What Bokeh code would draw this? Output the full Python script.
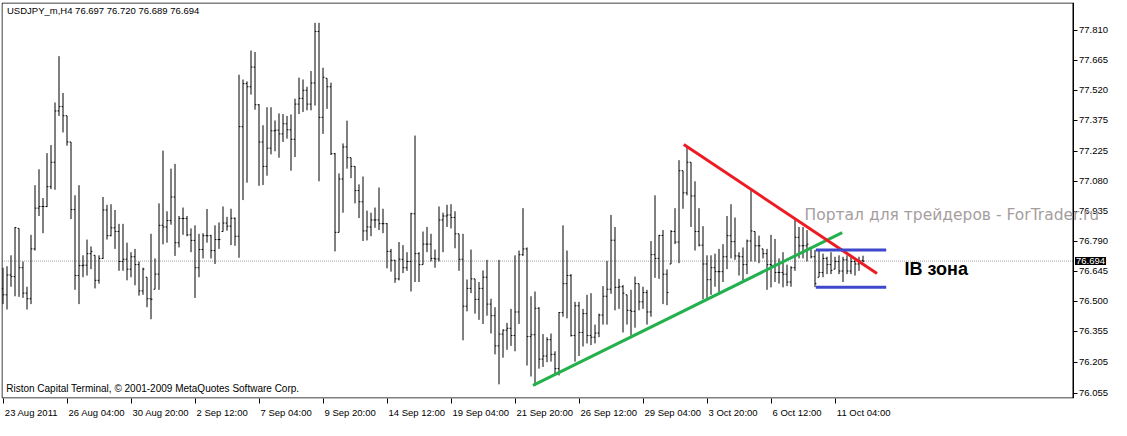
from bokeh.plotting import figure
from bokeh.models import Range1d, FixedTicker, PrintfTickFormatter, Label, BoxAnnotation
from bokeh.embed import file_html
from bokeh.resources import INLINE

# ---------------- data ----------------
highs = [76.662, 76.669, 76.722, 76.859, 76.852, 76.692, 76.570, 76.821, 77.061, 77.138,
         76.999, 77.216, 77.255, 77.461, 77.685, 77.507, 77.397, 77.270, 77.012, 77.061,
         76.722, 76.798, 76.765, 76.722, 76.722, 77.004, 76.966, 76.969, 76.941, 76.874,
         76.874, 76.783, 76.737, 76.753, 76.692, 76.662, 76.616, 76.826, 76.707, 76.973,
         77.228, 76.935, 77.141, 77.164, 76.912, 76.953, 76.912, 76.852, 76.867, 76.826,
         76.829, 76.946, 76.821, 76.867, 76.881, 76.958, 76.908, 76.947, 76.905, 77.595,
         77.572, 77.563, 77.712, 77.705, 77.453, 77.351, 77.438, 77.438, 77.374, 77.408,
         77.405, 77.396, 77.403, 77.479, 77.581, 77.572, 77.537, 77.613, 77.846, 77.846,
         77.629, 77.578, 77.557, 77.217, 77.118, 77.263, 77.373, 77.194, 77.153, 77.065,
         77.103, 76.938, 76.928, 76.953, 77.050, 76.947, 76.878, 76.753, 76.700, 76.786,
         76.771, 76.737, 76.928, 77.301, 76.737, 76.837, 76.859, 76.826, 76.750, 76.958,
         76.928, 76.966, 76.969, 76.935, 76.826, 76.826, 76.605, 76.750, 76.608, 76.593,
         76.649, 76.700, 76.512, 76.471, 76.700, 76.364, 76.395, 76.463, 76.722, 76.745,
         76.950, 76.760, 76.524, 76.547, 76.471, 76.341, 76.326, 76.344, 76.258, 76.448,
         76.867, 76.745, 76.631, 76.497, 76.497, 76.463, 76.531, 76.539, 76.387, 76.440,
         76.573, 76.695, 76.917, 76.859, 76.608, 76.578, 76.531, 76.555, 76.619, 76.585,
         76.570, 76.555, 76.791, 77.012, 76.821, 76.844, 76.654, 76.844, 76.950, 77.182,
         77.131, 77.248, 77.172, 77.080, 76.950, 76.863, 76.722, 76.722, 76.730, 76.753,
         76.776, 76.912, 76.969, 76.905, 76.737, 76.760, 76.798, 77.042, 76.837, 76.817,
         76.753, 76.753, 76.821, 76.801, 76.707, 76.737, 76.677, 76.669, 76.893, 76.859,
         76.859, 76.844, 76.760, 76.748, 76.745, 76.730, 76.715, 76.737, 76.715, 76.722,
         76.715, 76.722, 76.715, 76.707, 76.715, 76.720]

lows = [76.486, 76.460, 76.570, 76.524, 76.521, 76.516, 76.460, 76.486, 76.745, 76.912,
        76.829, 76.955, 77.042, 77.039, 77.396, 77.316, 77.252, 76.897, 76.555, 76.486,
        76.616, 76.624, 76.655, 76.562, 76.585, 76.704, 76.798, 76.814, 76.753, 76.647,
        76.647, 76.601, 76.616, 76.577, 76.527, 76.531, 76.471, 76.413, 76.558, 76.555,
        76.775, 76.783, 76.870, 76.719, 76.760, 76.821, 76.814, 76.737, 76.516, 76.616,
        76.707, 76.783, 76.707, 76.680, 76.753, 76.837, 76.841, 76.771, 76.768, 76.710,
        76.989, 77.073, 77.499, 77.426, 77.058, 77.062, 77.107, 77.210, 77.225, 77.194,
        77.270, 77.286, 77.131, 77.197, 77.405, 77.415, 77.423, 77.423, 77.446, 77.080,
        77.309, 77.430, 77.207, 76.741, 76.832, 76.928, 77.141, 77.095, 76.973, 76.902,
        76.791, 76.794, 76.814, 76.855, 76.844, 76.829, 76.659, 76.643, 76.589, 76.601,
        76.636, 76.647, 76.547, 76.593, 76.593, 76.677, 76.737, 76.692, 76.662, 76.692,
        76.737, 76.859, 76.852, 76.756, 76.647, 76.311, 76.451, 76.539, 76.440, 76.410,
        76.390, 76.430, 76.344, 76.243, 76.098, 76.227, 76.265, 76.284, 76.258, 76.390,
        76.719, 76.189, 76.136, 76.090, 76.174, 76.182, 76.205, 76.208, 76.144, 76.141,
        76.425, 76.417, 76.329, 76.208, 76.235, 76.281, 76.296, 76.288, 76.296, 76.326,
        76.387, 76.387, 76.536, 76.456, 76.463, 76.349, 76.387, 76.334, 76.372, 76.456,
        76.463, 76.387, 76.425, 76.613, 76.608, 76.486, 76.481, 76.680, 76.776, 76.684,
        76.947, 77.012, 76.859, 76.745, 76.765, 76.509, 76.516, 76.531, 76.570, 76.531,
        76.593, 76.655, 76.707, 76.700, 76.624, 76.601, 76.631, 76.692, 76.692, 76.684,
        76.707, 76.555, 76.567, 76.593, 76.585, 76.567, 76.573, 76.570, 76.647, 76.707,
        76.707, 76.692, 76.707, 76.568, 76.616, 76.616, 76.631, 76.631, 76.655, 76.631,
        76.593, 76.631, 76.631, 76.624, 76.647, 76.689]

closes = [76.531, 76.627, 76.619, 76.856, 76.662, 76.539, 76.512, 76.753, 76.950, 76.958,
          76.958, 77.054, 77.172, 77.420, 77.441, 77.397, 77.270, 76.943, 76.624, 76.672,
          76.674, 76.730, 76.741, 76.601, 76.707, 76.941, 76.817, 76.855, 76.837, 76.692,
          76.703, 76.655, 76.715, 76.677, 76.550, 76.655, 76.512, 76.509, 76.631, 76.867,
          76.859, 76.890, 77.004, 76.783, 76.900, 76.900, 76.821, 76.794, 76.662, 76.750,
          76.817, 76.817, 76.745, 76.798, 76.798, 76.878, 76.863, 76.901, 76.814, 77.344,
          77.552, 77.537, 77.632, 77.450, 77.270, 77.152, 77.240, 77.324, 77.327, 77.309,
          77.358, 77.329, 77.283, 77.453, 77.481, 77.520, 77.453, 77.555, 77.804, 77.389,
          77.583, 77.537, 77.213, 76.833, 77.091, 77.246, 77.194, 77.152, 77.035, 76.981,
          76.840, 76.859, 76.893, 76.893, 76.875, 76.875, 76.741, 76.698, 76.608, 76.703,
          76.662, 76.692, 76.923, 76.730, 76.677, 76.776, 76.776, 76.707, 76.704, 76.893,
          76.912, 76.917, 76.905, 76.826, 76.703, 76.476, 76.562, 76.608, 76.509, 76.562,
          76.616, 76.486, 76.430, 76.284, 76.341, 76.360, 76.369, 76.334, 76.448, 76.725,
          76.753, 76.329, 76.338, 76.466, 76.220, 76.235, 76.314, 76.243, 76.174, 76.445,
          76.585, 76.624, 76.334, 76.478, 76.349, 76.440, 76.334, 76.326, 76.346, 76.433,
          76.524, 76.558, 76.795, 76.567, 76.570, 76.539, 76.456, 76.451, 76.585, 76.497,
          76.542, 76.448, 76.725, 76.707, 76.818, 76.631, 76.542, 76.837, 76.786, 77.131,
          77.024, 77.172, 77.009, 76.837, 76.771, 76.680, 76.604, 76.662, 76.643, 76.643,
          76.715, 76.817, 76.788, 76.719, 76.715, 76.677, 76.791, 76.840, 76.768, 76.768,
          76.730, 76.677, 76.674, 76.639, 76.639, 76.631, 76.593, 76.662, 76.809, 76.768,
          76.768, 76.776, 76.715, 76.585, 76.639, 76.707, 76.677, 76.649, 76.692, 76.646,
          76.700, 76.646, 76.692, 76.680, 76.697, 76.694]
first_open = 76.560

# price-axis tick labels and time-axis tick labels
ytick_values = [76.055, 76.205, 76.355, 76.500, 76.645, 76.790, 76.935,
                77.080, 77.225, 77.375, 77.520, 77.665, 77.810]
xtick_bars = [0, 16, 32, 48, 64, 80, 96, 112, 128, 144, 160, 176, 192, 208]
xtick_labels = ["23 Aug 2011", "26 Aug 04:00", "30 Aug 20:00", "2 Sep 12:00",
                "7 Sep 04:00", "9 Sep 20:00", "14 Sep 12:00", "19 Sep 04:00",
                "21 Sep 20:00", "26 Sep 12:00", "29 Sep 04:00", "3 Oct 20:00",
                "6 Oct 12:00", "11 Oct 04:00"]

# hand-drawn annotation lines (bar index, price)
red_x, red_y = [170.2, 218.5], [77.258, 76.634]
green_x, green_y = [132.5, 209.8], [76.093, 76.832]
ib_x = [203.2, 220.8]
ib_high, ib_low = 76.748, 76.568
last_price = 76.694

title_text = "USDJPY_m,H4  76.697 76.720 76.689 76.694"
copyright_text = "Riston Capital Terminal, \u00a9 2001-2009 MetaQuotes Software Corp."
watermark_text = "Портал для трейдеров - ForTrader.ru"
watermark_at = (200.4, 76.916)
ib_text = "IB зона"
ib_text_at = (225.4, 76.654)

# ---------------- layout ----------------
W, H = 1111, 420
BL, BT, BB = 1, 2, 16            # canvas borders (the price scale lives inside the frame)
PX_BAR = 4.0                     # MT4 bar spacing in pixels
SCALE_W = 38                     # width of the price-scale strip on the right
FRAME_W, FRAME_H = W - BL, H - BT - BB
FONT = "Liberation Sans"
FS = 9.5                         # scale / header font size
FS_COPY = 10

# chart box in data units (bars at pixel centres), the frame extends over the price scale
XS = -1.5 / PX_BAR
BOX_X0 = XS + 0.5 / PX_BAR
BOX_X1 = XS + (FRAME_W - SCALE_W - 0.5) / PX_BAR
XE = XS + FRAME_W / PX_BAR
BOX_Y0, BOX_Y1 = 76.032, 77.942
py = (FRAME_H - 1) / (BOX_Y1 - BOX_Y0)
YS, YE = BOX_Y0 - 0.5 / py, BOX_Y1 + 0.5 / py

# Arial/Liberation Sans advance widths (per 1000 em) for the tick-label characters
AW = {**{d: 556 for d in "0123456789"}, " ": 278, ":": 278, "A": 667, "u": 556,
      "g": 556, "S": 667, "e": 556, "p": 556, "O": 778, "c": 500, "t": 278}


def text_px(s, size):
    return sum(AW.get(c, 556) for c in s) * size / 1000.0


# MT4 draws time labels left-aligned just right of the tick; place label centres accordingly
label_centres = [round(b + (1.5 + text_px(l, FS) / 2.0) / PX_BAR, 4)
                 for b, l in zip(xtick_bars, xtick_labels)]

# ---------------- derived ----------------
n = len(closes)
idx = list(range(n))
opens = [first_open] + closes[:-1]
opens = [min(max(o, l), h) for o, l, h in zip(opens, lows, highs)]

p = figure(width=W, height=H,
           x_range=Range1d(XS, XE), y_range=Range1d(YS, YE),
           output_backend="svg", toolbar_location=None,
           x_axis_location="below", y_axis_location="right",
           min_border_left=BL, min_border_top=BT, min_border_bottom=BB, min_border_right=0)
p.grid.visible = False
p.outline_line_color = None
p.background_fill_color = "white"
p.border_fill_color = "white"

# right price axis, pinned at the chart box's right edge
ya = p.yaxis[0]
ya.fixed_location = BOX_X1
ya.ticker = FixedTicker(ticks=ytick_values)
ya.formatter = PrintfTickFormatter(format="%.3f")
ya.major_tick_in = 0
ya.major_tick_out = 4
ya.minor_tick_line_color = None
ya.axis_line_color = "black"
ya.major_tick_line_color = "black"
ya.major_label_text_font = FONT
ya.major_label_text_font_size = "%.1fpx" % FS
ya.major_label_text_color = "black"
ya.major_label_standoff = 2

# bottom time axis: labels on (hidden) major ticks, visible tick marks as minor ticks
xa = p.xaxis[0]
xa.ticker = FixedTicker(ticks=label_centres, minor_ticks=xtick_bars)
xa.major_label_overrides = {c: l for c, l in zip(label_centres, xtick_labels)}
xa.major_tick_line_color = None
xa.major_tick_in = 0
xa.major_tick_out = 0
xa.minor_tick_in = 0
xa.minor_tick_out = 5
xa.minor_tick_line_color = "black"
xa.axis_line_color = None
xa.major_label_text_font = FONT
xa.major_label_text_font_size = "%.1fpx" % FS
xa.major_label_text_color = "black"
xa.major_label_standoff = 3

# chart box border
p.add_layout(BoxAnnotation(left=BOX_X0, right=BOX_X1, bottom=BOX_Y0, top=BOX_Y1,
                           fill_alpha=0, line_color="black", line_width=1, line_alpha=1))

# current price line (up to the price scale)
p.line([BOX_X0, BOX_X1], [last_price, last_price], line_color="#A8A0A8",
       line_dash="1 1", line_width=1)

# OHLC bars
p.segment(x0=idx, y0=lows, x1=idx, y1=highs, line_color="black", line_width=1)
p.segment(x0=[i - 0.35 for i in idx], y0=opens, x1=idx, y1=opens, line_color="black", line_width=1)
p.segment(x0=idx, y0=closes, x1=[i + 0.35 for i in idx], y1=closes, line_color="black", line_width=1)

# trend lines and IB zone
p.line(green_x, green_y, line_color="#22B14C", line_width=3)
p.line(red_x, red_y, line_color="#ED1C24", line_width=3)
p.line(ib_x, [ib_high, ib_high], line_color="#3F48CC", line_width=3)
p.line(ib_x, [ib_low, ib_low], line_color="#3F48CC", line_width=3)

# texts
p.add_layout(Label(x=1.0, y=77.907, text=title_text, text_font=FONT, text_font_size="%.1fpx" % FS,
                   text_color="black", text_baseline="middle", text_align="left"))
p.add_layout(Label(x=0.8, y=76.076, text=copyright_text, text_font=FONT,
                   text_font_size="%dpx" % FS_COPY,
                   text_color="black", text_baseline="middle", text_align="left"))
p.add_layout(Label(x=ib_text_at[0], y=ib_text_at[1], text=ib_text, text_font=FONT,
                   text_font_size="18px", text_font_style="bold", text_color="black",
                   text_baseline="middle", text_align="left"))
p.add_layout(Label(x=watermark_at[0], y=watermark_at[1], text=watermark_text,
                   text_font="DejaVu Sans", text_font_size="15.5px", text_color="#A59E9E",
                   text_baseline="middle", text_align="left"))
p.add_layout(Label(x=BOX_X1 + 2.0 / PX_BAR, y=last_price, text="%.3f" % last_price,
                   text_font=FONT, text_font_size="%.1fpx" % FS, text_color="white",
                   text_baseline="middle", text_align="left",
                   background_fill_color="black", padding=1))

open("out.html", "w").write(file_html(p, INLINE))
